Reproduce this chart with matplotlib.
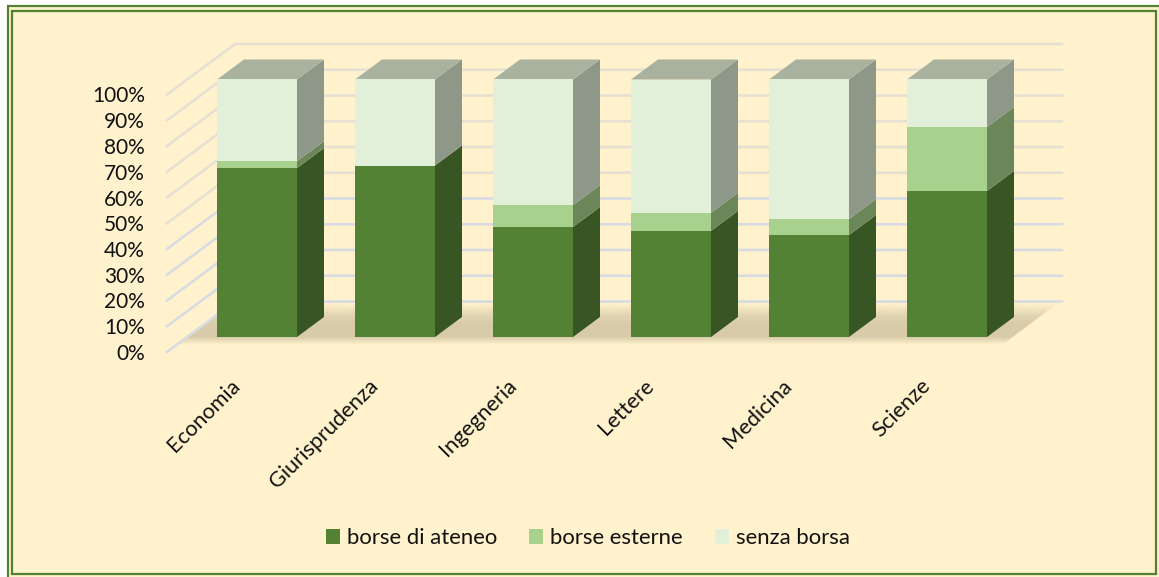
import matplotlib
matplotlib.use('Agg')
import matplotlib.pyplot as plt
import numpy as np
from matplotlib.colors import to_rgb
from matplotlib.patches import Polygon, Rectangle
from matplotlib.ticker import PercentFormatter
from matplotlib.transforms import ScaledTranslation

facolta = ['Economia', 'Giurisprudenza', 'Ingegneria', 'Lettere', 'Medicina', 'Scienze']
ateneo = [65.6, 66.6, 42.7, 41.2, 39.6, 56.7]
esterne = [2.7, 0, 8.5, 7.0, 6.2, 24.8]
senza = [31.7, 33.4, 48.8, 51.8, 54.2, 18.5]
serie = ['borse di ateneo', 'borse esterne', 'senza borsa']
tick_pct = [0, 10, 20, 30, 40, 50, 60, 70, 80, 90, 100]

W, H = 1159, 577
FRONT = ['#548235', '#A9D18E', '#E2EFD9']
SIDE = ['#375623', '#6B8759', '#8E9889']
TOP = '#A8B29F'
CREAM = '#FFF2CC'
GREEN = '#548235'

plt.rcParams['font.family'] = ['Lato', 'DejaVu Sans']

fig = plt.figure(figsize=(W / 100, H / 100), dpi=100, facecolor='white')


def box(x0, y0, x1, y1, **kw):
    # rectangle given in picture pixels, y going down
    fig.add_artist(Rectangle((x0 / W, 1 - y1 / H), (x1 - x0) / W, (y1 - y0) / H,
                             transform=fig.transFigure, zorder=-1, **kw))


box(8, 6, W + 5, H + 5, fc=CREAM, ec=GREEN, lw=1.6)
box(12, 10.5, 1156, 574, fc='none', ec=GREEN, lw=1.6)

# axes covers the plot box: left edge is the front of the wall, 0% to back 100%
ax_l, ax_r, ax_t, ax_b = 167, 1062, 44, 352
ax = fig.add_axes([ax_l / W, 1 - ax_b / H, (ax_r - ax_l) / W, (ax_b - ax_t) / H])
ax.patch.set_visible(False)
for s in ax.spines.values():
    s.set_visible(False)

px_x = 138.0    # pixels per category
px_y = 2.575    # pixels per percent
ax.set_xlim((ax_l - 257) / px_x, (ax_r - 257) / px_x)
ax.set_ylim(0, (ax_b - ax_t) / px_y)

x0, x1 = ax.get_xlim()
wall_dx = 68 / px_x
wall_dy = 50.5 / px_y
bar_dx = 27 / px_x
bar_dy = 20 / px_y
base = 15 / px_y
width = 80 / px_x

# floor shadow, soft on the back side
floor_lo, floor_hi = 7 / px_y, 49 / px_y
grad = np.zeros((64, 1, 4))
grad[:, :, :3] = to_rgb('#D8CBAA')
grad[:, 0, 3] = np.interp(np.linspace(0, 1, 64), [0, 0.19, 0.48, 0.71, 1], [0, 1, 1, 0.75, 0])
floor = ax.imshow(grad, extent=(x0, x1, floor_lo, floor_hi), origin='lower',
                  aspect='auto', zorder=1, interpolation='bilinear')
ax.set_xlim(x0, x1)
ax.set_ylim(0, (ax_b - ax_t) / px_y)
clip = Polygon([(x0 + 8 / px_x, floor_lo), (x0 + wall_dx, floor_hi),
                (x1 - 4 / px_x, floor_hi), (x1 - 60 / px_x, floor_lo)],
               transform=ax.transData, fc='none', ec='none')
ax.add_patch(clip)
floor.set_clip_path(clip)

# walls gridlines
for p in tick_pct:
    c = '#D9DBE2' if p < 50 else '#E6E0D2'
    ax.plot([x0, x0 + wall_dx, x1], [p, p + wall_dy, p + wall_dy], color=c, lw=1.9,
            solid_joinstyle='miter', zorder=2, clip_on=False)

xs = np.arange(len(facolta))
bottom = np.full(len(facolta), base)
for vals, name, fc, sc in zip([ateneo, esterne, senza], serie, FRONT, SIDE):
    vals = np.array(vals)
    ax.bar(xs, vals, width, bottom=bottom, color=fc, label=name, zorder=4, lw=0)
    for x, b, v in zip(xs, bottom, vals):
        if v == 0:
            continue
        r = x + width / 2
        ax.add_patch(Polygon([(r, b), (r + bar_dx, b + bar_dy), (r + bar_dx, b + v + bar_dy), (r, b + v)],
                             fc=sc, ec='none', zorder=3))
    bottom = bottom + vals

for x, t in zip(xs, bottom):
    l = x - width / 2
    ax.add_patch(Polygon([(l, t), (l + width, t), (l + width + bar_dx, t + bar_dy), (l + bar_dx, t + bar_dy)],
                         fc=TOP, ec='none', zorder=3))

ax.set_yticks(tick_pct)
ax.yaxis.set_major_formatter(PercentFormatter(100, decimals=0))
ax.set_xticks(xs)
ax.set_xticklabels(facolta, rotation=45, ha='right', va='center', rotation_mode='anchor')
ax.tick_params(axis='y', length=0, pad=16, labelsize=15, labelcolor='#111111')
ax.tick_params(axis='x', length=0, pad=22, labelsize=15.7, labelcolor='#111111')
shift = ScaledTranslation(-20 / 100, 0, fig.dpi_scale_trans)
for lab in ax.get_xticklabels():
    lab.set_transform(lab.get_transform() + shift)

ax.legend(loc='center', bbox_to_anchor=(588 / W, 1 - 538 / H), bbox_transform=fig.transFigure,
          ncol=3, frameon=False, fontsize=15.9, handlelength=0.64, handleheight=0.64,
          handletextpad=0.32, columnspacing=1.45, labelcolor='#111111')

fig.savefig('out.png', dpi=100, facecolor=fig.get_facecolor())
